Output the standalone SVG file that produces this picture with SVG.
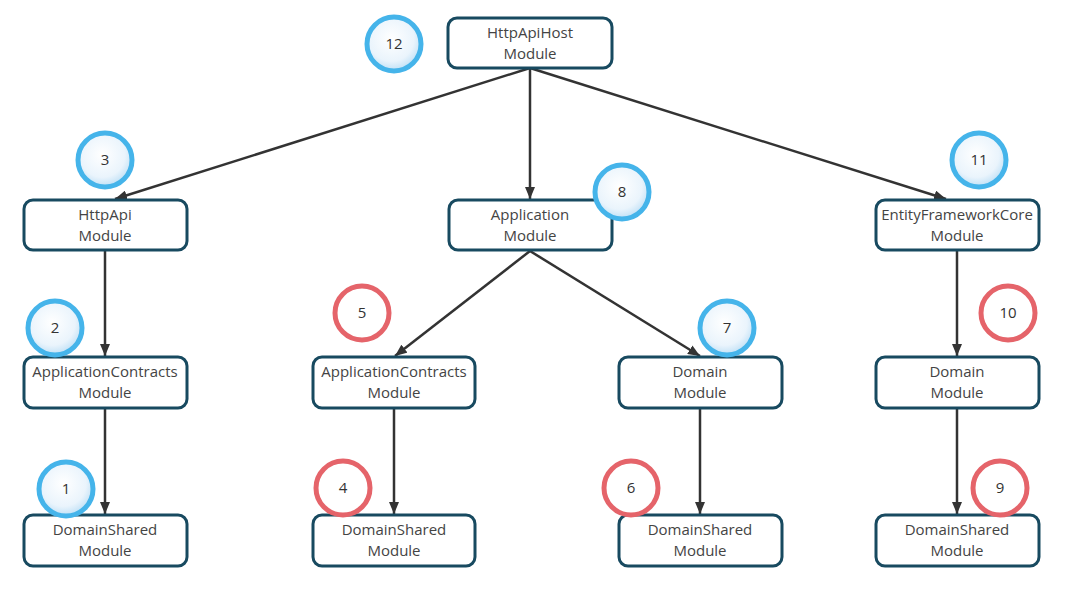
<svg xmlns="http://www.w3.org/2000/svg" width="1080" height="593" viewBox="0 0 1080 593">
<defs>
<style>
.box{fill:#fff;stroke:#184a60;stroke-width:3}
.lbl{font-family:"Open Sans","Noto Sans",sans-serif;font-size:15px;fill:#444;text-anchor:middle}
.num{font-family:"Open Sans","Noto Sans",sans-serif;font-size:15px;fill:#333;text-anchor:middle}
.edge{stroke:#333;stroke-width:2.5;fill:none;marker-end:url(#arr)}
.blue{fill:url(#gb);stroke:#45b4ea;stroke-width:5}
.red{fill:url(#gr);stroke:#e5646a;stroke-width:5}
</style>
<radialGradient id="gb" cx="0.45" cy="0.4" r="0.6">
<stop offset="0" stop-color="#ffffff"/><stop offset="0.7" stop-color="#eaf4fc"/><stop offset="1" stop-color="#bfe0f6"/>
</radialGradient>
<radialGradient id="gr" cx="0.5" cy="0.5" r="0.55">
<stop offset="0" stop-color="#ffffff"/><stop offset="0.85" stop-color="#ffffff"/><stop offset="1" stop-color="#f6d4d6"/>
</radialGradient>
<marker id="arr" viewBox="0 0 12 10" refX="12" refY="5" markerWidth="12" markerHeight="10" orient="auto" markerUnits="userSpaceOnUse">
<path d="M0,0 L12,5 L0,10 z" fill="#333"/>
</marker>
</defs>
<rect width="1080" height="593" fill="#fff"/>
<g id="connectors">
<line class="edge" x1="530" y1="68" x2="115" y2="199"/>
<line class="edge" x1="530" y1="68" x2="530" y2="199"/>
<line class="edge" x1="530" y1="68" x2="946" y2="199"/>
<line class="edge" x1="530" y1="251" x2="395" y2="356"/>
<line class="edge" x1="530" y1="251" x2="700" y2="356"/>
<line class="edge" x1="105" y1="251" x2="105" y2="356"/>
<line class="edge" x1="105" y1="409" x2="105" y2="514"/>
<line class="edge" x1="394" y1="409" x2="394" y2="514"/>
<line class="edge" x1="700" y1="409" x2="700" y2="514"/>
<line class="edge" x1="957" y1="251" x2="957" y2="356"/>
<line class="edge" x1="957" y1="409" x2="957" y2="514"/>
</g>
<g id="n-httpapihost"><rect class="box" x="448" y="18" width="164" height="50" rx="9"/><text class="lbl" x="530" y="38">HttpApiHost</text><text class="lbl" x="530" y="59">Module</text></g>
<g id="n-httpapi"><rect class="box" x="24" y="200" width="163" height="50" rx="9"/><text class="lbl" x="105" y="220">HttpApi</text><text class="lbl" x="105" y="241">Module</text></g>
<g id="n-application"><rect class="box" x="449" y="200" width="163" height="50" rx="9"/><text class="lbl" x="530" y="220">Application</text><text class="lbl" x="530" y="241">Module</text></g>
<g id="n-efcore"><rect class="box" x="876" y="200" width="163" height="50" rx="9"/><text class="lbl" x="957" y="220">EntityFrameworkCore</text><text class="lbl" x="957" y="241">Module</text></g>
<g id="n-appcontracts1"><rect class="box" x="24" y="357" width="163" height="51" rx="9"/><text class="lbl" x="105" y="377">ApplicationContracts</text><text class="lbl" x="105" y="398">Module</text></g>
<g id="n-appcontracts2"><rect class="box" x="313" y="357" width="162" height="51" rx="9"/><text class="lbl" x="394" y="377">ApplicationContracts</text><text class="lbl" x="394" y="398">Module</text></g>
<g id="n-domain1"><rect class="box" x="619" y="357" width="163" height="51" rx="9"/><text class="lbl" x="700" y="377">Domain</text><text class="lbl" x="700" y="398">Module</text></g>
<g id="n-domain2"><rect class="box" x="876" y="357" width="163" height="51" rx="9"/><text class="lbl" x="957" y="377">Domain</text><text class="lbl" x="957" y="398">Module</text></g>
<g id="n-ds1"><rect class="box" x="24" y="515" width="163" height="51" rx="9"/><text class="lbl" x="105" y="535">DomainShared</text><text class="lbl" x="105" y="556">Module</text></g>
<g id="n-ds2"><rect class="box" x="313" y="515" width="162" height="51" rx="9"/><text class="lbl" x="394" y="535">DomainShared</text><text class="lbl" x="394" y="556">Module</text></g>
<g id="n-ds3"><rect class="box" x="619" y="515" width="163" height="51" rx="9"/><text class="lbl" x="700" y="535">DomainShared</text><text class="lbl" x="700" y="556">Module</text></g>
<g id="n-ds4"><rect class="box" x="876" y="515" width="163" height="51" rx="9"/><text class="lbl" x="957" y="535">DomainShared</text><text class="lbl" x="957" y="556">Module</text></g>
<g id="badges">
<g id="b12"><circle class="blue" cx="394" cy="44" r="27"/><text class="num" x="394" y="49">12</text></g>
<g id="b3"><circle class="blue" cx="105" cy="160" r="27"/><text class="num" x="105" y="165">3</text></g>
<g id="b8"><circle class="blue" cx="622" cy="192" r="27"/><text class="num" x="622" y="197">8</text></g>
<g id="b11"><circle class="blue" cx="979" cy="160" r="27"/><text class="num" x="979" y="165">11</text></g>
<g id="b2"><circle class="blue" cx="55" cy="328" r="27"/><text class="num" x="55" y="333">2</text></g>
<g id="b7"><circle class="blue" cx="727" cy="328" r="27"/><text class="num" x="727" y="333">7</text></g>
<g id="b1"><circle class="blue" cx="66" cy="489" r="27"/><text class="num" x="66" y="494">1</text></g>
<g id="b5"><circle class="red" cx="362" cy="313" r="27"/><text class="num" x="362" y="318">5</text></g>
<g id="b10"><circle class="red" cx="1008" cy="313" r="27"/><text class="num" x="1008" y="318">10</text></g>
<g id="b4"><circle class="red" cx="343" cy="488" r="27"/><text class="num" x="343" y="493">4</text></g>
<g id="b6"><circle class="red" cx="631" cy="488" r="27"/><text class="num" x="631" y="493">6</text></g>
<g id="b9"><circle class="red" cx="1000" cy="488" r="27"/><text class="num" x="1000" y="493">9</text></g>
</g>
</svg>
